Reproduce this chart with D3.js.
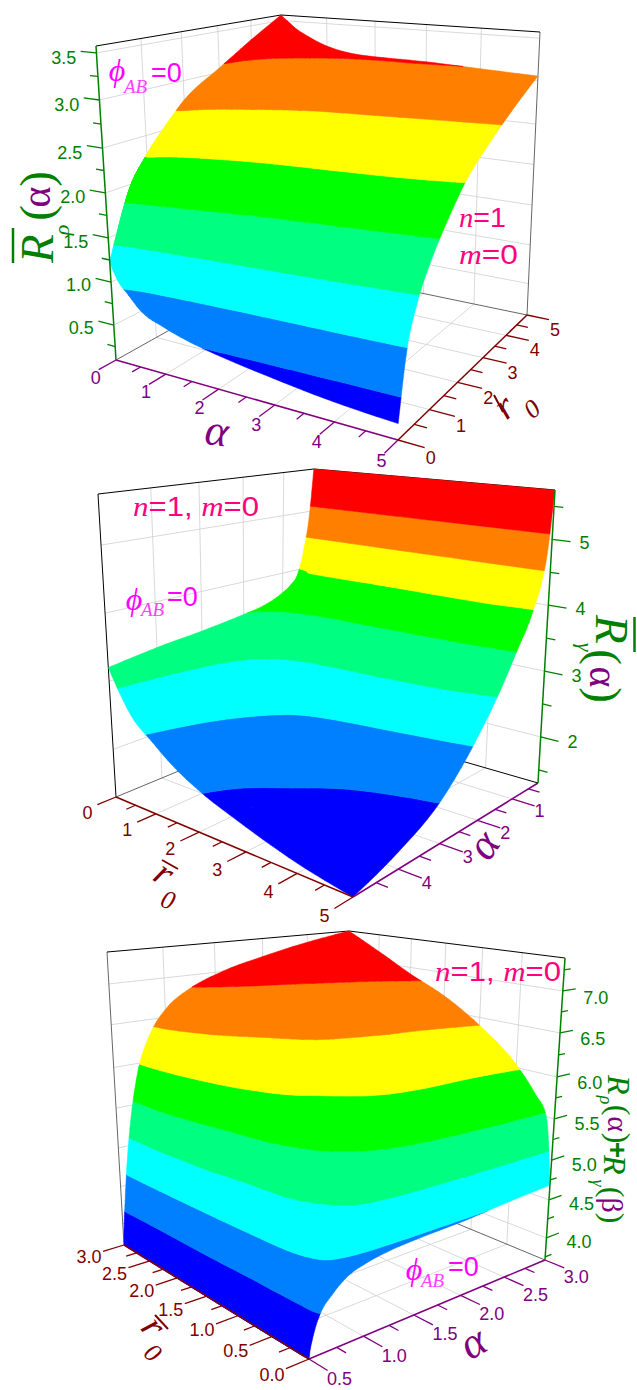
<!DOCTYPE html><html><head><meta charset="utf-8"><style>html,body{margin:0;background:#fff}svg{display:block}</style></head><body><svg id="s" width="637" height="1390"></svg>
<script src="https://cdn.jsdelivr.net/npm/d3@7"></script>
<script>
// ---------- data ----------
const bandColors=["#0000ff","#0080ff","#00ffff","#00ff80","#00ff00","#ffff00","#ff8000","#ff0000"];

const alpha1=[0,.05,.15,.3,.6,1,1.5,2,3,4,5];
const rho1=[0,.25,.5,1,1.5,2,3,4,5];
const levels1=[.5,.93,1.36,1.79,2.22,2.65,3.08];
const surface1=[
[1.20,1.12,1.00,0.90,0.72,0.62,0.53,0.47,0.38,0.31,0.27],
[1.55,1.58,1.58,1.55,1.48,1.40,1.30,1.22,1.12,1.04,0.95],
[1.86,1.92,1.90,1.86,1.80,1.73,1.65,1.58,1.48,1.38,1.27],
[2.24,2.26,2.23,2.17,2.09,2.02,1.95,1.90,1.83,1.75,1.66],
[2.51,2.51,2.48,2.43,2.37,2.30,2.23,2.18,2.11,2.04,1.95],
[2.75,2.74,2.70,2.64,2.58,2.53,2.48,2.44,2.38,2.31,2.20],
[3.04,2.97,2.91,2.84,2.78,2.74,2.70,2.67,2.63,2.58,2.53],
[3.32,3.22,3.15,3.07,3.00,2.95,2.91,2.89,2.87,2.84,2.80],
[3.58,3.55,3.50,3.42,3.31,3.20,3.13,3.11,3.10,3.07,3.04]];

const alpha2=[.2,.3,.45,.6,.8,1,1.5,2,3,4,5];
const rho2=[0,.25,.5,1,1.5,2,3,4,5];
const levels2=[1.85,2.39,2.93,3.47,4.01,4.55,5.09];
const surface2=[
[5.80,4.95,4.30,3.92,3.75,3.66,3.52,3.46,3.37,3.30,3.20],
[5.80,4.95,4.37,4.05,3.90,3.68,3.50,3.36,3.14,2.97,2.87],
[5.80,4.95,4.38,4.17,3.97,3.69,3.44,3.22,2.90,2.72,2.60],
[5.80,4.95,4.39,4.18,3.97,3.69,3.38,3.05,2.69,2.47,2.31],
[5.80,4.95,4.39,4.17,3.96,3.67,3.35,2.96,2.52,2.24,2.06],
[5.80,4.95,4.40,4.17,3.94,3.66,3.34,2.92,2.33,2.05,1.88],
[5.80,4.95,4.40,4.17,3.95,3.65,3.33,2.86,2.12,1.85,1.63],
[5.80,4.95,4.40,4.16,3.96,3.65,3.28,2.74,2.00,1.67,1.43],
[5.80,4.95,4.38,4.10,3.80,3.58,3.02,2.56,1.87,1.52,1.30]];

const alpha3=[.5,.51,.53,.56,.6,.7,.85,1,1.25,1.5,2,2.5,3];
const rho3=[0,.1,.25,.5,1,1.5,2,2.5,3];
const levels3=[4.13,4.58,5.03,5.48,5.93,6.38,6.83];
const surface3=[
[3.72,3.80,3.90,4.02,4.13,4.27,4.41,4.47,4.52,4.54,4.56,4.60,4.63],
[3.71,3.78,3.87,4.02,4.24,4.52,4.73,4.89,5.09,5.21,5.34,5.42,5.45],
[3.71,3.74,3.81,3.99,4.33,4.68,4.93,5.16,5.38,5.52,5.62,5.64,5.68],
[3.71,3.72,3.79,4.00,4.47,4.84,5.15,5.42,5.65,5.81,5.91,5.92,5.98],
[3.71,3.72,3.82,4.09,4.59,4.98,5.49,5.77,5.98,6.10,6.22,6.27,6.38],
[3.71,3.73,3.87,4.27,4.74,5.14,5.75,6.03,6.21,6.35,6.47,6.56,6.68],
[3.71,3.75,3.93,4.41,4.82,5.42,6.00,6.22,6.38,6.49,6.60,6.72,6.90],
[3.71,3.82,4.03,4.51,4.98,5.66,6.18,6.38,6.55,6.67,6.82,6.98,7.15],
[3.72,3.93,4.20,4.58,5.00,5.75,6.30,6.58,6.82,6.96,7.14,7.28,7.39]];

const ticks1={xMajor:[0,1,2,3,4,5],xMinor:[.5,1.5,2.5,3.5,4.5],yMajor:[0,1,2,3,4,5],yMinor:[.5,1.5,2.5,3.5,4.5],zMajor:[.5,1,1.5,2,2.5,3,3.5],zMinor:[.25,.75,1.25,1.75,2.25,2.75,3.25]};
const ticks2={xMajor:[1,2,3,4],xMinor:[.5,1.5,2.5,3.5,4.5],yMajor:[0,1,2,3,4,5],yMinor:[.5,1.5,2.5,3.5,4.5],zMajor:[2,3,4,5],zMinor:[1.5,2.5,3.5,4.5,5.5]};
const ticks3={xMajor:[.5,1,1.5,2,2.5,3],xMinor:[.75,1.25,1.75,2.25,2.75],yMajor:[0,.5,1,1.5,2,2.5,3],yMinor:[.25,.75,1.25,1.75,2.25,2.75],zMajor:[4,4.5,5,5.5,6,6.5,7],zMinor:[3.75,4.25,4.75,5.25,5.75,6.25,6.75,7.25]};

// ---------- layout ----------
const PURPLE="#800080",DRED="#800000",GREEN="#008000",PINK="#ff0080",MAG="#ff00ff";
const SANS="'Liberation Sans',Arial,sans-serif",SERIF="'Liberation Serif','Times New Roman',serif";
const panels=[
{x:alpha1,y:rho1,t:surface1,lv:levels1,tk:ticks1,xd:[0,5],yd:[0,5],zd:[0.114,3.58],
 zaDom:[.093,.5,1,1.5,2,2.5,3,3.5,3.58],zaRange:[0,.111,.248,.389,.532,.675,.828,.978,1],
 bot:[[116,360],[398,440],[527,315],[286,265]],top:[[96,46],[403,76],[540,32],[281,15]],
 wallX:0,wallY:5,
 xAxis:{at:0,ext:-1,color:PURPLE,fmt:"d",d:[-3,8]},yAxis:{at:5,ext:1,color:DRED,fmt:"d",d:[6,10]},
 zAxis:{atX:0,atY:0,dir:"x",ext:-1,fmt:".1f",d:[-17,7]},
 frame:[{a:[5,5,0],b:[5,5,1],c:"#666"},{a:[0,5,1],b:[0,0,1],c:"#000"},{a:[0,5,1],b:[5,5,1],c:"#000"},{a:[0,5,0],b:[0,0,0],c:"#666"},{a:[0,5,0],b:[5,5,0],c:"#666"}]},
{x:alpha2,y:rho2,t:surface2,lv:levels2,tk:ticks2,xd:[.2,5],yd:[0,5],zd:[1.3,5.75],
 zaDom:[1.3,5.75],zaRange:[0,1],
 bot:[[309,717],[116,797],[353,897],[538,783]],top:[[314,469],[98,494],[355,527],[555,490]],
 wallX:.2,wallY:0,
 xAxis:{at:5,ext:1,color:PURPLE,fmt:"d",d:[5,5]},yAxis:{at:5,ext:1,color:DRED,fmt:"d",d:[-10,8]},
 zAxis:{atX:.2,atY:5,dir:"y",ext:1,fmt:"d",d:[14,1]},
 frame:[{a:[5,0,0],b:[5,0,1],c:"#000"},{a:[.2,0,1],b:[5,0,1],c:"#000"},{a:[.2,0,1],b:[.2,5,1],c:"#000"},{a:[.2,0,0],b:[5,0,0],c:"#666"},{a:[.2,0,0],b:[.2,5,0],c:"#000"}]},
{x:alpha3,y:rho3,t:surface3,lv:levels3,tk:ticks3,xd:[.5,3],yd:[0,3],zd:[3.72,7.39],
 zaDom:[3.71,4,4.5,5,5.5,6,6.5,7,7.39],zaRange:[0,.073,.199,.331,.467,.606,.752,.891,1],
 bot:[[309,1359],[545,1260],[347,1178],[124,1245]],top:[[308,992],[565,958],[349,931],[107,952]],
 wallX:3,wallY:3,
 xAxis:{at:0,ext:-1,color:PURPLE,fmt:".1f",d:[12,9]},yAxis:{at:.5,ext:-1,color:DRED,fmt:".1f",d:[-14,6]},
 zAxis:{atX:3,atY:0,dir:"x",ext:1,fmt:".1f",d:[20,9]},
 frame:[{a:[.5,3,0],b:[.5,3,1],c:"#666"},{a:[.5,3,1],b:[3,3,1],c:"#000"},{a:[3,3,1],b:[3,0,1],c:"#000"},{a:[3,3,0],b:[3,0,0],c:"#666"},{a:[3,3,0],b:[.5,3,0],c:"#666"}]}
];
const svg=d3.select("#s");
function txt(g,x,y,s,o={}){const t=g.append("text").attr("transform",`translate(${x},${y})`+(o.rot?` rotate(${o.rot})`:"")).attr("font-family",o.fam||SANS).attr("font-size",o.size||18).attr("fill",o.fill||"#000").attr("text-anchor",o.anchor||"middle");if(o.style)t.attr("font-style",o.style);if(o.weight)t.attr("font-weight",o.weight);t.text(s);return t;}
function hom(q){const [[x0,y0],[x1,y1],[x2,y2],[x3,y3]]=q;const dx1=x1-x2,dx2=x3-x2,sx=x0-x1+x2-x3,dy1=y1-y2,dy2=y3-y2,sy=y0-y1+y2-y3;
 const D=dx1*dy2-dx2*dy1,g=(sx*dy2-dx2*sy)/D,h=(dx1*sy-sx*dy1)/D,a=x1-x0+g*x1,b=x3-x0+h*x3,d=y1-y0+g*y1,e=y3-y0+h*y3;
 return (u,v)=>{const t=g*u+h*v+1;return [(a*u+b*v+x0)/t,(d*u+e*v+y0)/t]};}
function tangents(xs,ys){const n=xs.length,h=d3.range(n-1).map(i=>xs[i+1]-xs[i]),s=h.map((d,i)=>(ys[i+1]-ys[i])/d),m=new Array(n);
 for(let i=1;i<n-1;i++){const p=(h[i-1]*s[i]+h[i]*s[i-1])/(h[i-1]+h[i]);m[i]=(Math.sign(s[i-1])+Math.sign(s[i]))*Math.min(Math.abs(s[i-1]),Math.abs(s[i]),.5*Math.abs(p));}
 m[0]=(3*s[0]-m[1])/2;m[n-1]=(3*s[n-2]-m[n-2])/2;return m;}
function resample(xs,ys,K){const m=tangents(xs,ys),o=[];for(let i=0;i<xs.length-1;i++){const h=xs[i+1]-xs[i];for(let a=0;a<K;a++){const t=a/K,t2=t*t,t3=t2*t;o.push((2*t3-3*t2+1)*ys[i]+(t3-2*t2+t)*h*m[i]+(-2*t3+3*t2)*ys[i+1]+(t3-t2)*h*m[i+1]);}}o.push(ys[ys.length-1]);return o;}
function clip(poly,f){const o=[];for(let a=0;a<poly.length;a++){const p=poly[a],q=poly[(a+1)%poly.length],fp=f(p),fq=f(q);if(fp>=0)o.push(p);if((fp>=0)!==(fq>=0)){const t=fp/(fp-fq);o.push([p[0]+(q[0]-p[0])*t,p[1]+(q[1]-p[1])*t,p[2]+(q[2]-p[2])*t]);}}return o;}

panels.forEach(P=>{
 const g=svg.append("g");
 const Hb=hom(P.bot),Ht=hom(P.top);
 const su=d3.scaleLinear().domain(P.xd).range([0,1]),sv=d3.scaleLinear().domain(P.yd).range([0,1]),sw=d3.scaleLinear().domain(P.zd).range([0,1]);
 const sa=d3.scaleLinear().domain(P.zaDom).range(P.zaRange);
 const prw=(x,y,w)=>{const u=su(x),v=sv(y),a=Hb(u,v),b=Ht(u,v);return [a[0]+(b[0]-a[0])*w,a[1]+(b[1]-a[1])*w]};
 const pr=(x,y,z)=>prw(x,y,sw(z));
 const seg=(a,b,c,w)=>g.append("line").attr("x1",a[0]).attr("y1",a[1]).attr("x2",b[0]).attr("y2",b[1]).attr("stroke",c).attr("stroke-width",w);
 const [z0,z1]=P.zd,[x0,x1]=P.xd,[y0,y1]=P.yd;
 // wall and floor grid
 const GC="#cfcfcf",tk=P.tk;
 tk.xMajor.filter(v=>v>x0&&v<x1).forEach(v=>{seg(prw(v,y0,0),prw(v,y1,0),GC,.8);seg(prw(v,P.wallY,0),prw(v,P.wallY,1),GC,.8);});
 tk.yMajor.filter(v=>v>y0&&v<y1).forEach(v=>{seg(prw(x0,v,0),prw(x1,v,0),GC,.8);seg(prw(P.wallX,v,0),prw(P.wallX,v,1),GC,.8);});
 tk.zMajor.forEach(v=>{seg(prw(P.wallX,y0,sa(v)),prw(P.wallX,y1,sa(v)),GC,.8);seg(prw(x0,P.wallY,sa(v)),prw(x1,P.wallY,sa(v)),GC,.8);});
 P.frame.forEach(f=>seg(prw(f.a[0],f.a[1],f.a[2]),prw(f.b[0],f.b[1],f.b[2]),f.c,1));
 // surface split into bands
 const K=6,fx=[],fy=[];
 P.x.forEach((v,i)=>{if(i<P.x.length-1)for(let a=0;a<K;a++)fx.push(v+(P.x[i+1]-v)*a/K);});fx.push(x1);
 P.y.forEach((v,i)=>{if(i<P.y.length-1)for(let a=0;a<K;a++)fy.push(v+(P.y[i+1]-v)*a/K);});fy.push(y1);
 const rows=P.t.map(r=>resample(P.x,r,K));
 const cols=fx.map((_,i)=>resample(P.y,rows.map(r=>r[i]),K));
 const lims=[-1e9,...P.lv,z1],paths=bandColors.map(()=>[]);
 for(let i=0;i<fx.length-1;i++)for(let j=0;j<fy.length-1;j++){
  const q=[[fx[i],fy[j],cols[i][j]],[fx[i+1],fy[j],cols[i+1][j]],[fx[i+1],fy[j+1],cols[i+1][j+1]],[fx[i],fy[j+1],cols[i][j+1]]];
  bandColors.forEach((c,b)=>{let h=clip(q,p=>p[2]-lims[b]);if(h.length>2)h=clip(h,p=>lims[b+1]-p[2]);
   if(h.length>2)paths[b].push("M"+h.map(p=>{const s=pr(p[0],p[1],p[2]);return s[0].toFixed(1)+","+s[1].toFixed(1)}).join("L")+"Z");});
 }
 paths.forEach((d,b)=>g.append("path").attr("d",d.join("")).attr("fill",bandColors[b]).attr("stroke",bandColors[b]).attr("stroke-width",.5).attr("stroke-linejoin","round"));
 // axes
 const dx=(x1-x0)*.08,dy=(y1-y0)*.08;
 const A=P.xAxis,B=P.yAxis,C=P.zAxis;
 seg(prw(x0,A.at,0),prw(x1,A.at,0),A.color,1.5);
 const tickX=(v,major)=>{const s=prw(v,A.at,0),e=prw(v,A.at+A.ext*dy*(major?1:.5),0);seg(s,e,A.color,1.3);return e;};
 tk.xMinor.forEach(v=>tickX(v,false));
 tk.xMajor.forEach(v=>{const e=tickX(v,true);txt(g,e[0]+A.d[0],e[1]+A.d[1]+6,d3.format(A.fmt)(v),{fill:A.color});});
 seg(prw(B.at,y0,0),prw(B.at,y1,0),B.color,1.5);
 const tickY=(v,major)=>{const s=prw(B.at,v,0),e=prw(B.at+B.ext*dx*(major?1:.5),v,0);seg(s,e,B.color,1.3);return e;};
 tk.yMinor.forEach(v=>tickY(v,false));
 tk.yMajor.forEach(v=>{const e=tickY(v,true);txt(g,e[0]+B.d[0],e[1]+B.d[1]+6,d3.format(B.fmt)(v),{fill:B.color});});
 seg(prw(C.atX,C.atY,0),prw(C.atX,C.atY,1),GREEN,1.5);
 const zEnd=(v,major)=>{const f=(major?1:.5)*.8*C.ext;return C.dir==="x"?prw(C.atX+f*dx,C.atY,sa(v)):prw(C.atX,C.atY+f*dy,sa(v));};
 tk.zMinor.forEach(v=>seg(prw(C.atX,C.atY,sa(v)),zEnd(v,false),GREEN,1.3));
 tk.zMajor.forEach(v=>{const e=zEnd(v,true);seg(prw(C.atX,C.atY,sa(v)),e,GREEN,1.3);txt(g,e[0]+C.d[0],e[1]+C.d[1]+6,d3.format(C.fmt)(v),{fill:GREEN});});
});

// ---------- titles and notes ----------
const T=svg.append("g");
const bar=(a,b,c,w)=>T.append("line").attr("x1",a[0]).attr("y1",a[1]).attr("x2",b[0]).attr("y2",b[1]).attr("stroke",c).attr("stroke-width",w);
const it={fam:SERIF,style:"italic"};
function phi(xp,yb,xA,yA,xe,ye){
 txt(T,xp,yb,"\u03d5",{...it,size:32,fill:MAG});
 txt(T,xA,yA,"AB",{...it,size:19,fill:"#ff40ff",anchor:"start"});
 txt(T,xe,ye,"=0",{size:27,fill:MAG,anchor:"start"});}
function nm(x,y,parts,len,size){const t=T.append("text").attr("x",x).attr("y",y).attr("font-family",SANS).attr("font-size",size||28).attr("fill",PINK).attr("textLength",len).attr("lengthAdjust","spacingAndGlyphs");
 parts.forEach(p=>{const s=t.append("tspan").text(p[0]);if(p[1])s.attr("font-family",SERIF).attr("font-style","italic");});}
// panel 1
phi(117,81,124,93,151,82);
nm(459,227,[["n",1],["=1"]],47);
nm(459,264,[["m",1],["=0"]],59);
bar([13,228],[13,263],GREEN,2.5);
txt(T,53,263,"R",{...it,size:47,fill:GREEN,rot:-90,anchor:"start"});
txt(T,69,230,"\u03c1",{...it,size:22,fill:GREEN,rot:-90});
txt(T,52,213,"(",{fam:SERIF,size:47,fill:GREEN,rot:-90});
txt(T,50,197,"\u03b1",{fam:SERIF,size:40,fill:PURPLE,rot:-90});
txt(T,52,179,")",{fam:SERIF,size:47,fill:GREEN,rot:-90});
txt(T,215,445,"\u03b1",{...it,size:44,fill:PURPLE,rot:8});
bar([494,395],[503,412],DRED,2);
txt(T,512,416,"r",{...it,size:38,fill:DRED,rot:-40});
txt(T,537.5,415.5,"0",{...it,size:26,fill:DRED,rot:-40});
// panel 2
nm(133,516,[["n",1],["=1, "],["m",1],["=0"]],126);
phi(134,610,141,616,167,606);
bar([634.5,617],[634.5,652],GREEN,2.5);
txt(T,596,615,"R",{...it,size:47,fill:GREEN,rot:90,anchor:"start"});
txt(T,578,647,"\u03b3",{...it,size:22,fill:GREEN,rot:90});
txt(T,589,657,"(",{fam:SERIF,size:47,fill:GREEN,rot:90});
txt(T,590,677,"\u03b1",{fam:SERIF,size:40,fill:PURPLE,rot:90});
txt(T,589,695,")",{fam:SERIF,size:47,fill:GREEN,rot:90});
txt(T,495,853,"\u03b1",{...it,size:44,fill:PURPLE,rot:-55});
bar([162,860],[178,869],DRED,2);
txt(T,157.5,883.5,"r",{...it,size:38,fill:DRED,rot:34});
txt(T,165,908,"0",{...it,size:26,fill:DRED,rot:20});
// panel 3
nm(435,981,[["n",1],["=1, "],["m",1],["=0"]],126);
phi(414,1280,421,1287,448,1276);
txt(T,608,1075,"R",{...it,size:32,fill:GREEN,rot:90,anchor:"start"});
txt(T,600,1100,"\u03c1",{...it,size:18,fill:GREEN,rot:90});
txt(T,608,1110,"(",{fam:SERIF,size:32,fill:GREEN,rot:90});
txt(T,608,1124,"\u03b1",{fam:SERIF,size:30,fill:PURPLE,rot:90});
txt(T,608,1138,")",{fam:SERIF,size:32,fill:GREEN,rot:90});
txt(T,608,1150,"+",{fam:SANS,weight:"bold",size:28,fill:GREEN,rot:90});
txt(T,604,1155,"R",{...it,size:32,fill:GREEN,rot:90,anchor:"start"});
txt(T,592,1183,"\u03b3",{...it,size:18,fill:GREEN,rot:90});
txt(T,602,1192,"(",{fam:SERIF,size:32,fill:GREEN,rot:90});
txt(T,602,1205,"\u03b2",{fam:SERIF,size:30,fill:PURPLE,rot:90});
txt(T,602,1218,")",{fam:SERIF,size:32,fill:GREEN,rot:90});
txt(T,480,1355,"\u03b1",{...it,size:44,fill:PURPLE,rot:-30});
bar([155,1315],[168,1329],DRED,2);
txt(T,144,1334,"r",{...it,size:38,fill:DRED,rot:52});
txt(T,147,1359,"0",{...it,size:26,fill:DRED,rot:42});
</script></body></html>
